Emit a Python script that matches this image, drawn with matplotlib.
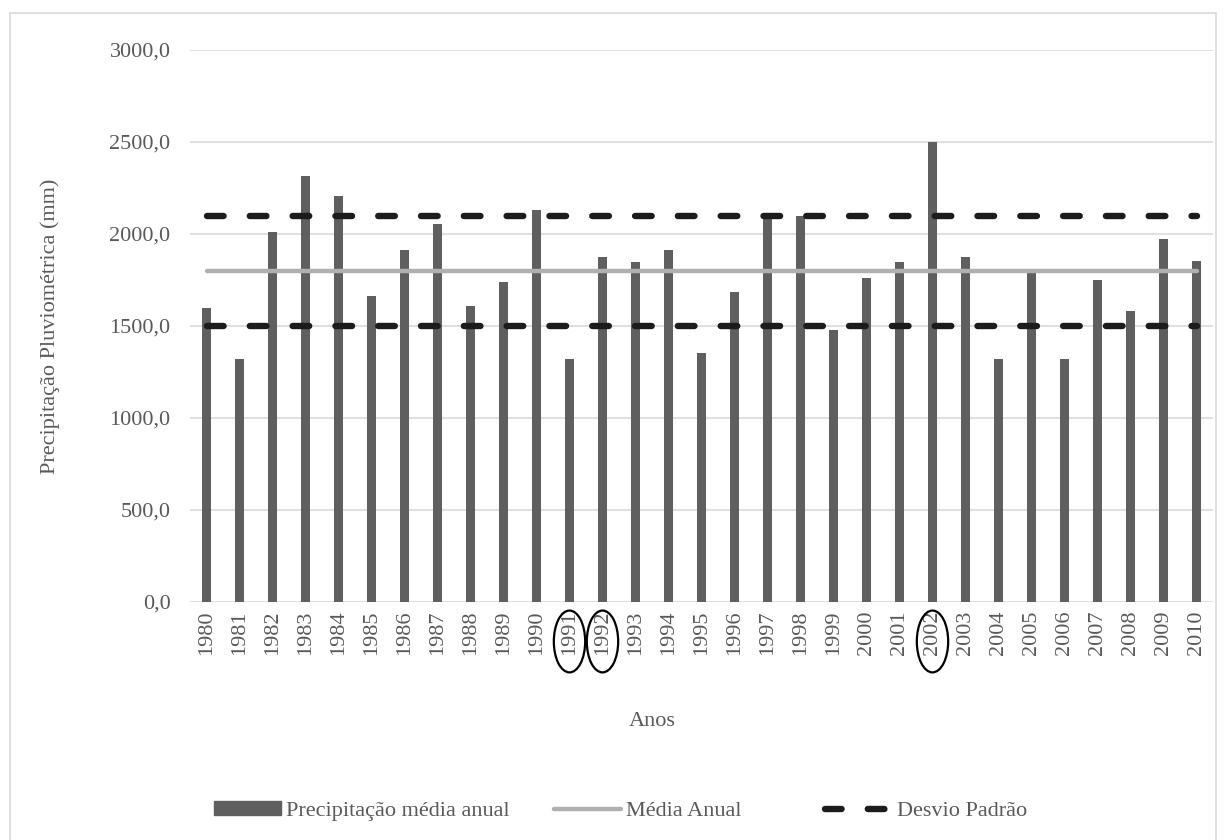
#!/usr/bin/python3

# Annual mean rainfall 1980-2010 with the long-term mean and
# one standard deviation band either side of it

import matplotlib
matplotlib.use("Agg")
import matplotlib.pyplot as plt
import matplotlib.patches as mpatches
import matplotlib.transforms as mtransforms
from matplotlib.lines import Line2D
from matplotlib.ticker import FuncFormatter, MultipleLocator
import numpy as np

anos = [str(a) for a in range(1980, 2011)]
precipitacao = [1600, 1320, 2010, 2315, 2205, 1663, 1915, 2057, 1610, 1740,
                2130, 1320, 1877, 1847, 1913, 1352, 1686, 2100, 2100, 1477,
                1763, 1847, 2500, 1874, 1320, 1786, 1320, 1749, 1583, 1972,
                1854]
media_anual = 1800.0
desvio_sup = 2100.0
desvio_inf = 1500.0
destaque = ["1991", "1992", "2002"]

cinza_txt = "#595959"
plt.rcParams['font.family'] = ['Liberation Serif', 'DejaVu Serif']

W, H = 1225, 840
fig = plt.figure(figsize=(W / 100, H / 100), dpi=100)
ax = fig.add_axes([190 / W, 1 - 602 / H, (1213 - 190) / W, (602 - 50) / H])

x = np.arange(len(anos))
ax.bar(x, precipitacao, width=0.3, color="#5f5f5f", zorder=2)
ax.plot(x, [media_anual] * len(x), color="#b0b0b0", lw=3.2,
        solid_capstyle="round", zorder=3)
for v in (desvio_sup, desvio_inf):
    ax.plot(x, [v] * len(x), color="#1c1c1c", lw=4.6,
            dashes=(2.6, 4.1), dash_capstyle="round", zorder=4)

ax.set_xlim(-0.5, len(x) - 0.5)
ax.set_ylim(0, 3000)
ax.yaxis.set_major_locator(MultipleLocator(500))
ax.yaxis.set_major_formatter(FuncFormatter(lambda v, p: f"{v:.1f}".replace(".", ",")))
ax.grid(axis="y", color="#d9d9d9", lw=1.2, zorder=0)
ax.set_axisbelow(True)
for s in ax.spines.values():
    s.set_visible(False)
ax.set_xticks(x)
ax.set_xticklabels(anos, rotation=90)
ax.tick_params(axis="both", length=0, labelsize=16, labelcolor=cinza_txt)
ax.tick_params(axis="x", pad=6)
ax.tick_params(axis="y", pad=14)

# circles around the highlighted years
trans = mtransforms.blended_transform_factory(ax.transData, ax.transAxes)
for ano in destaque:
    i = anos.index(ano)
    ax.add_patch(mpatches.Ellipse((i, -0.0715), 0.95, 0.112, transform=trans,
                                  fill=False, edgecolor="black", lw=1.6,
                                  clip_on=False))

fig.text(50 / W, 1 - 326 / H, "Precipitação Pluviométrica (mm)", rotation=90,
         ha="center", va="center", fontsize=16, color=cinza_txt)
fig.text(652 / W, 1 - 722 / H, "Anos", ha="center", va="center",
         fontsize=16, color=cinza_txt)

# legend entries placed one by one
itens = [
    (214, mpatches.Patch(color="#5f5f5f"), "Precipitação média anual"),
    (554, Line2D([], [], color="#b0b0b0", lw=3.2, solid_capstyle="round"), "Média Anual"),
    (825, Line2D([], [], color="#1c1c1c", lw=4.6, dashes=(2.6, 4.1),
                 dash_capstyle="round"), "Desvio Padrão"),
]
for xpos, h, lab in itens:
    leg = fig.legend([h], [lab], loc="center left", frameon=False,
                     bbox_to_anchor=(xpos / W, 1 - 811 / H), borderpad=0,
                     borderaxespad=0, handlelength=3.0, handleheight=0.55,
                     handletextpad=0.25, fontsize=16)
    for t in leg.get_texts():
        t.set_color(cinza_txt)

fig.patches.append(mpatches.Rectangle((10 / W, -0.05), (1216 - 10) / W, 1.05 - 13 / H,
                                      transform=fig.transFigure, fill=False,
                                      edgecolor="#d9d9d9", lw=1.2))

fig.savefig("out.png", dpi=100)
